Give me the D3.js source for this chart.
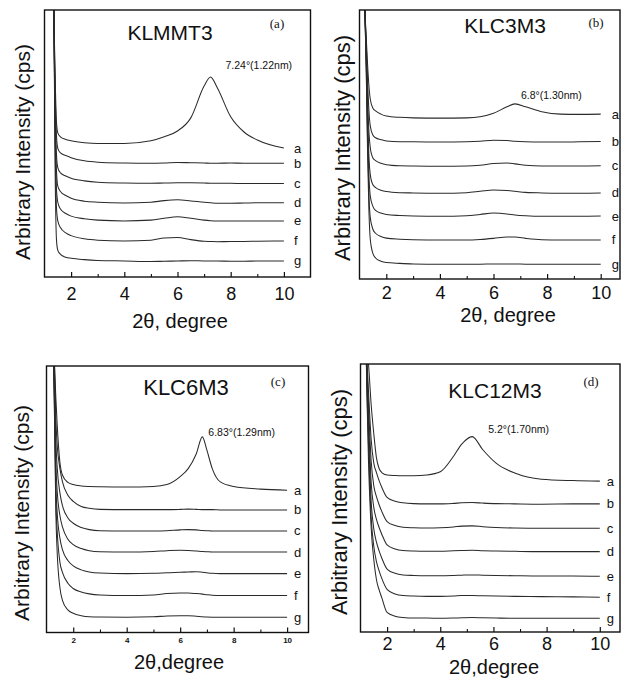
<!DOCTYPE html>
<html>
<head>
<meta charset="utf-8">
<script src="https://cdn.jsdelivr.net/npm/d3@7"></script>
<style>
  body { margin: 0; background: #fff; }
  svg { display: block; }
</style>
</head>
<body>
<svg id="chart" width="621" height="679"></svg>
<script>
// Sample curve labels (top to bottom)
const sampleLabels = ["a", "b", "c", "d", "e", "f", "g"];

// Major / minor tick positions on the 2θ axis
const majorTicks = [2, 4, 6, 8, 10];
const minorTicks = [3, 5, 7, 9];

// ---- KLMMT3: 2θ grid and intensities of curves a–g ----
const thetaA = [1.3, 1.35, 1.4, 1.45, 1.5, 1.6, 1.8, 2.0, 2.5, 3, 4, 5, 5.5, 6, 6.5, 7, 7.24, 7.5, 8, 8.5, 9, 10];
const klmmt3 = [
  [115, 100, 75, 58, 54, 52.5, 51.5, 51, 50.3, 50, 50, 51, 52.5, 54.7, 59.6, 71.5, 74.9, 70.8, 60, 54.3, 51.3, 48.3],
  [115, 100, 70, 53, 48.2, 46.5, 45.5, 44.7, 43.5, 43, 42.7, 42.6, 42.7, 42.9, 42.8, 42.7, 42.6, 42.6, 42.7, 42.6, 42.6, 42.6],
  [115, 100, 64, 46, 41, 39, 37.8, 37, 36, 35.5, 35.2, 35.1, 35.2, 35.3, 35.3, 35.2, 35.1, 35.1, 35.1, 35, 35, 35],
  [115, 100, 60, 40, 34, 32, 30.5, 29.5, 28.4, 28, 27.7, 28, 28.6, 28.9, 28.5, 28, 27.8, 27.6, 27.6, 27.7, 27.8, 27.8],
  [115, 100, 55, 33, 28, 25.5, 23.8, 22.8, 21.8, 21.3, 21, 21.3, 22, 22.6, 22, 21.3, 21.1, 21, 21, 21, 21, 21],
  [115, 100, 50, 26, 21, 18.5, 16.5, 15.5, 14.3, 13.8, 13.5, 13.8, 14.6, 14.8, 14, 13.4, 13.3, 13.2, 13.3, 13.3, 13.4, 13.5],
  [115, 100, 40, 14, 10, 8.5, 7.4, 7, 6.5, 6.2, 6, 5.8, 5.9, 6, 6.1, 6, 6, 6, 5.9, 5.9, 6, 6]
];

// ---- KLC3M3 ----
const thetaB = [1.15, 1.2, 1.25, 1.3, 1.35, 1.4, 1.5, 1.6, 1.8, 2.0, 2.5, 3, 4, 5, 5.5, 6, 6.5, 6.8, 7.2, 7.8, 8.5, 9.2, 10];
const klc3m3 = [
  [110, 100, 90, 80, 72, 67, 63.5, 62.5, 61.3, 60.6, 60.1, 59.9, 59.8, 59.9, 60.3, 61.6, 64, 65.1, 64, 62.2, 61.3, 61.2, 61.3],
  [110, 100, 88, 74, 63, 57, 53.5, 52.5, 51.8, 51.3, 51, 51, 50.9, 51, 51.2, 51.6, 51.5, 51.2, 51, 50.9, 50.9, 51, 51.1],
  [110, 100, 86, 68, 55, 49, 45, 44, 43, 42.5, 42.1, 42, 41.9, 42, 42.3, 42.9, 43.1, 42.8, 42.3, 42, 42, 42, 42.1],
  [110, 100, 84, 62, 46, 39, 35, 34, 33, 32.5, 32.1, 32, 31.9, 32.1, 32.6, 33.1, 32.9, 32.6, 32.2, 32, 31.9, 31.9, 32],
  [110, 100, 82, 57, 39, 31, 27, 25.5, 24.5, 24, 23.6, 23.4, 23.3, 23.5, 24, 24.5, 24.2, 23.8, 23.5, 23.3, 23.3, 23.3, 23.4],
  [110, 100, 80, 52, 32, 23, 18.5, 17, 15.8, 15.2, 14.8, 14.6, 14.5, 14.5, 14.7, 15.1, 15.6, 15.6, 15.1, 14.6, 14.5, 14.5, 14.5],
  [110, 100, 78, 48, 26, 15, 9.5, 7.8, 6.6, 6.1, 5.8, 5.6, 5.5, 5.5, 5.5, 5.6, 5.6, 5.6, 5.5, 5.5, 5.5, 5.5, 5.5]
];

// ---- KLC6M3 ----
const thetaC = [1.25, 1.3, 1.35, 1.4, 1.5, 1.6, 1.8, 2.0, 2.3, 2.6, 3, 4, 5, 5.5, 6, 6.3, 6.6, 6.83, 7.0, 7.2, 7.5, 8, 9, 10];
const klc6m3 = [
  [110, 100, 88, 78, 64, 59, 56.3, 55.5, 55, 54.8, 54.7, 54.6, 54.8, 55.5, 58.5, 61.5, 67, 73.4, 68.4, 61.5, 56.5, 54.8, 53.8, 53.4],
  [110, 100, 80, 70.3, 61.7, 56.4, 51.5, 49.2, 47.3, 46.6, 46.2, 46.1, 46.1, 46.1, 46.2, 46.3, 46.2, 46.1, 46.1, 46.1, 46, 46, 46, 46],
  [110, 96, 72, 62, 52.5, 47.5, 43, 41, 39.4, 38.6, 38.2, 38.1, 38.1, 38.2, 38.5, 38.6, 38.5, 38.3, 38.2, 38.1, 38.1, 38.1, 38.1, 38.1],
  [110, 92, 64, 53, 44, 39.5, 35, 33, 31.5, 30.7, 30.3, 30.2, 30.4, 30.7, 30.9, 30.8, 30.6, 30.4, 30.3, 30.2, 30.2, 30.2, 30.2, 30.2],
  [110, 88, 56, 45, 35.5, 31, 27, 25, 23.5, 22.7, 22.3, 22.1, 22.2, 22.4, 22.6, 22.7, 22.8, 22.6, 22.4, 22.2, 22.1, 22.1, 22.1, 22.1],
  [110, 84, 50, 38, 26.5, 22.5, 18.5, 16.5, 15.2, 14.5, 14.1, 13.9, 14.1, 14.6, 14.8, 14.8, 14.6, 14.4, 14.2, 14, 13.9, 13.9, 13.9, 13.9],
  [110, 80, 45, 30, 17, 12, 8.5, 7.2, 6.3, 5.9, 5.8, 5.75, 5.9, 6.2, 6.3, 6.3, 6.1, 5.9, 5.8, 5.75, 5.75, 5.75, 5.7, 5.7]
];

// ---- KLC12M3 ----
const thetaD = [1.2, 1.25, 1.3, 1.4, 1.5, 1.6, 1.7, 1.8, 2.0, 2.3, 2.6, 3, 3.5, 4, 4.5, 4.8, 5.2, 5.6, 6.1, 6.8, 7.8, 9, 10];
const klc12m3 = [
  [110, 105, 100, 85, 74, 65, 61, 59.5, 58.6, 58.4, 58.3, 58.3, 58.6, 59.8, 65.6, 70, 72.9, 68, 63, 59.3, 57, 56.5, 56.3],
  [110, 100, 90, 72, 63, 59.5, 56.5, 54, 50.2, 48.8, 48.2, 47.9, 47.8, 47.8, 48, 48.2, 48.3, 48.1, 47.9, 47.8, 47.7, 47.8, 47.8],
  [110, 97, 85, 64, 54.5, 50.5, 47.5, 45, 41.2, 39.7, 39.1, 38.9, 38.8, 38.9, 39.2, 39.5, 39.6, 39.3, 39, 38.8, 38.7, 38.7, 38.7],
  [110, 94, 80, 56, 46.5, 42, 39, 36.5, 32.5, 31, 30.4, 30.2, 30.1, 30.1, 30.3, 30.4, 30.5, 30.3, 30.2, 30.1, 30, 30, 30],
  [110, 91, 75, 49, 38.5, 33.5, 30.3, 27.6, 23.5, 21.9, 21.3, 21.1, 21, 21, 21.1, 21.2, 21.3, 21.2, 21.1, 21, 20.9, 20.9, 20.8],
  [110, 88, 70, 43, 32, 26.3, 22.8, 20, 15.9, 14.2, 13.6, 13.4, 13.3, 13.3, 13.4, 13.6, 13.6, 13.5, 13.4, 13.3, 13.2, 13.1, 13.0],
  [110, 85, 64, 39, 27, 19.5, 15.7, 12.8, 7.3, 5.9, 5.4, 5.2, 5.2, 5.1, 5.2, 5.3, 5.4, 5.3, 5.2, 5.1, 5.1, 5.1, 5.1]
];

// Peak positions (2θ) of curve a and their annotations
const peakTheta = [7.24, 6.8, 6.83, 5.2];
const peakText = ["7.24°(1.22nm)", "6.8°(1.30nm)", "6.83°(1.29nm)", "5.2°(1.70nm)"];

// Panel titles and tags
const panelTitles = ["KLMMT3", "KLC3M3", "KLC6M3", "KLC12M3"];
const panelTags = ["(a)", "(b)", "(c)", "(d)"];
const xTitles = ["2θ, degree", "2θ, degree", "2θ,degree", "2θ,degree"];

// Layout of the four panels
const panels = [
  { theta: thetaA, series: klmmt3, box: { l: 44.5, t: 10, r: 310.5, b: 277 }, xMax: 11,
    title: { x: 170, y: 39.5, size: 21 }, tag: { x: 277, y: 28 },
    yTitle: { x: 30, y: 152, size: 21 }, xTitle: { x: 180, y: 328 },
    tickFont: 18, tickBold: false, tickPad: 10, peakDx: 15, peakDy: -8, labelDx: 10 },
  { theta: thetaB, series: klc3m3, box: { l: 359.5, t: 10, r: 620, b: 279 }, xMax: 10.72,
    title: { x: 505, y: 33, size: 21 }, tag: { x: 596, y: 27 },
    yTitle: { x: 350, y: 148, size: 22 }, xTitle: { x: 508, y: 322 },
    tickFont: 18, tickBold: false, tickPad: 6.8, peakDx: 6, peakDy: -5, labelDx: 11 },
  { theta: thetaC, series: klc6m3, box: { l: 46.5, t: 366, r: 308.5, b: 632.5 }, xMax: 10.8,
    title: { x: 186, y: 395, size: 22 }, tag: { x: 278, y: 386 },
    yTitle: { x: 29, y: 513, size: 21 }, xTitle: { x: 179, y: 669 },
    tickFont: 8, tickBold: true, tickPad: 4.8, peakDx: 6, peakDy: -1, labelDx: 7 },
  { theta: thetaD, series: klc12m3, box: { l: 360.5, t: 364, r: 620, b: 632 }, xMax: 10.76,
    title: { x: 495, y: 398, size: 21 }, tag: { x: 591, y: 386 },
    yTitle: { x: 347, y: 502, size: 22 }, xTitle: { x: 494, y: 674 },
    tickFont: 18, tickBold: false, tickPad: 5.6, peakDx: 16, peakDy: -3.5, labelDx: 7 }
];

const SANS = "'Liberation Sans', Arial, sans-serif";
const SERIF = "'Liberation Serif', 'Times New Roman', serif";

const svg = d3.select("#chart");

panels.forEach((p, i) => {
  const { l, t, r, b } = p.box;
  const x = d3.scaleLinear().domain([1, p.xMax]).range([l, r]);
  const y = d3.scaleLinear().domain([0, 100]).range([b, t]);

  const g = svg.append("g");

  // clip region for the curves
  const clipId = "clip-" + i;
  svg.append("defs").append("clipPath").attr("id", clipId)
    .append("rect").attr("x", l).attr("y", t).attr("width", r - l).attr("height", b - t);

  const line = d3.line()
    .x(d => x(d[0]))
    .y(d => y(d[1]))
    .curve(d3.curveMonotoneX);

  // diffraction curves
  const curves = g.append("g").attr("clip-path", `url(#${clipId})`);
  p.series.forEach(vals => {
    const pts = p.theta.map((th, k) => [th, vals[k]]);
    curves.append("path")
      .attr("d", line(pts))
      .attr("fill", "none")
      .attr("stroke", "#2a2a2a")
      .attr("stroke-width", 1.05);
  });

  // curve labels a–g beside the right end of each curve
  p.series.forEach((vals, k) => {
    g.append("text")
      .attr("x", x(10) + p.labelDx)
      .attr("y", y(vals[vals.length - 1]) + 4.5)
      .attr("font-family", SANS)
      .attr("font-size", 13)
      .attr("fill", "#111")
      .text(sampleLabels[k]);
  });

  // peak annotation above curve a
  const pk = p.theta.indexOf(peakTheta[i]);
  g.append("text")
    .attr("x", x(peakTheta[i]) + p.peakDx)
    .attr("y", y(p.series[0][pk]) + p.peakDy)
    .attr("font-family", SANS)
    .attr("font-size", 10.5)
    .attr("fill", "#111")
    .text(peakText[i]);

  // x axis: inward major and minor ticks
  const axisMajor = d3.axisBottom(x).tickValues(majorTicks).tickSize(-5).tickPadding(p.tickPad)
    .tickFormat(d3.format("d"));
  const ax = g.append("g").attr("transform", `translate(0,${b})`).call(axisMajor);
  ax.select(".domain").remove();
  ax.selectAll(".tick line").attr("stroke", "#111").attr("stroke-width", 1.2);
  ax.selectAll(".tick text")
    .attr("font-family", SANS)
    .attr("font-size", p.tickFont)
    .attr("font-weight", p.tickBold ? "bold" : "normal")
    .attr("fill", "#111");

  const axisMinor = d3.axisBottom(x).tickValues(minorTicks).tickSize(-3).tickFormat("");
  const axm = g.append("g").attr("transform", `translate(0,${b})`).call(axisMinor);
  axm.select(".domain").remove();
  axm.selectAll(".tick line").attr("stroke", "#111").attr("stroke-width", 1.1);

  // frame
  g.append("rect")
    .attr("x", l).attr("y", t).attr("width", r - l).attr("height", b - t)
    .attr("fill", "none").attr("stroke", "#111").attr("stroke-width", 1.4);

  // titles
  g.append("text")
    .attr("x", p.title.x).attr("y", p.title.y)
    .attr("text-anchor", "middle")
    .attr("font-family", SANS).attr("font-size", p.title.size).attr("fill", "#111")
    .text(panelTitles[i]);

  g.append("text")
    .attr("x", p.tag.x).attr("y", p.tag.y)
    .attr("text-anchor", "middle")
    .attr("font-family", SERIF).attr("font-size", 13).attr("fill", "#111")
    .text(panelTags[i]);

  g.append("text")
    .attr("transform", `translate(${p.yTitle.x},${p.yTitle.y}) rotate(-90)`)
    .attr("text-anchor", "middle")
    .attr("font-family", SANS).attr("font-size", p.yTitle.size).attr("fill", "#111")
    .text("Arbitrary Intensity (cps)");

  g.append("text")
    .attr("x", p.xTitle.x).attr("y", p.xTitle.y)
    .attr("text-anchor", "middle")
    .attr("font-family", SANS).attr("font-size", 20).attr("fill", "#111")
    .text(xTitles[i]);
});
</script>
</body>
</html>
